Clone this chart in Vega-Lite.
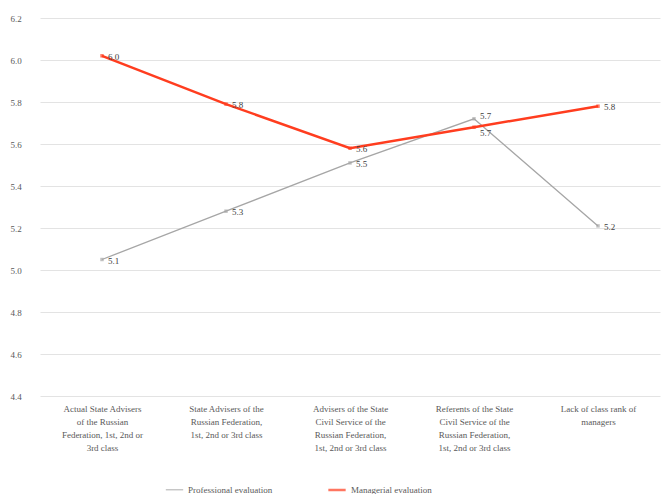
{
  "$schema": "https://vega.github.io/schema/vega-lite/v6.json",
  "width": 620,
  "height": 378,
  "autosize": {"type": "none"},
  "padding": {"left": 40, "top": 18, "right": 3, "bottom": 98},
  "background": "white",
  "config": {
    "view": {"stroke": null},
    "font": "Liberation Serif",
    "axis": {"labelFont": "Liberation Serif", "labelColor": "#595959", "labelFontSize": 9},
    "legend": {"labelFont": "Liberation Serif", "labelColor": "#595959", "labelFontSize": 9}
  },
  "data": {
    "values": [
      {"category": "Actual State Advisers", "series": "Professional evaluation", "value": 5.05, "label": "5.1"},
      {"category": "State Advisers", "series": "Professional evaluation", "value": 5.28, "label": "5.3"},
      {"category": "Advisers of the Civil Service", "series": "Professional evaluation", "value": 5.51, "label": "5.5"},
      {"category": "Referents of the Civil Service", "series": "Professional evaluation", "value": 5.72, "label": "5.7"},
      {"category": "Lack of class rank", "series": "Professional evaluation", "value": 5.21, "label": "5.2"},
      {"category": "Actual State Advisers", "series": "Managerial evaluation", "value": 6.02, "label": "6.0"},
      {"category": "State Advisers", "series": "Managerial evaluation", "value": 5.79, "label": "5.8"},
      {"category": "Advisers of the Civil Service", "series": "Managerial evaluation", "value": 5.58, "label": "5.6"},
      {"category": "Referents of the Civil Service", "series": "Managerial evaluation", "value": 5.68, "label": "5.7"},
      {"category": "Lack of class rank", "series": "Managerial evaluation", "value": 5.78, "label": "5.8"}
    ]
  },
  "encoding": {
    "x": {
      "field": "category", "type": "nominal", "sort": null, "title": null,
      "scale": {"paddingInner": 0, "paddingOuter": 0},
      "axis": {
        "labelAngle": 0, "domain": false, "ticks": false, "labelPadding": 8,
        "labelLineHeight": 13, "labelBaseline": "top",
        "labelExpr": "{'Actual State Advisers': ['Actual State Advisers', 'of the Russian', 'Federation, 1st, 2nd or', '3rd class'], 'State Advisers': ['State Advisers of the', 'Russian Federation,', '1st, 2nd or 3rd class'], 'Advisers of the Civil Service': ['Advisers of the State', 'Civil Service of the', 'Russian Federation,', '1st, 2nd or 3rd class'], 'Referents of the Civil Service': ['Referents of the State', 'Civil Service of the', 'Russian Federation,', '1st, 2nd or 3rd class'], 'Lack of class rank': ['Lack of class rank of', 'managers']}[datum.label]"
      }
    },
    "y": {
      "field": "value", "type": "quantitative", "title": null,
      "scale": {"domain": [4.4, 6.2], "nice": false, "zero": false},
      "axis": {"values": [4.4, 4.6, 4.8, 5.0, 5.2, 5.4, 5.6, 5.8, 6.0, 6.2], "format": ".1f", "domain": false, "ticks": false, "labelPadding": 30, "gridColor": "#e3e3e3", "labelAlign": "left"}
    },
    "color": {
      "field": "series", "type": "nominal", "title": null,
      "scale": {"domain": ["Professional evaluation", "Managerial evaluation"], "range": ["#a6a6a6", "#ff3d1f"]},
      "legend": {"orient": "none", "legendX": 125, "legendY": 462, "direction": "horizontal", "symbolType": "stroke", "symbolSize": 300, "symbolStrokeWidth": 2, "columnPadding": 50}
    }
  },
  "layer": [
    {
      "mark": {"type": "line"},
      "encoding": {
        "strokeWidth": {"field": "series", "type": "nominal", "scale": {"domain": ["Professional evaluation", "Managerial evaluation"], "range": [1.3, 2.5]}, "legend": null}
      }
    },
    {
      "mark": {"type": "point", "filled": true, "size": 12, "shape": "square"}
    },
    {
      "transform": [{"filter": "datum.category != 'Referents of the Civil Service'"}],
      "mark": {"type": "text", "align": "left", "dx": 6, "dy": 1, "fontSize": 9, "color": "#404040"},
      "encoding": {"text": {"field": "label"}, "color": {"value": "#404040"}}
    },
    {
      "transform": [{"filter": "datum.category == 'Referents of the Civil Service' && datum.series == 'Professional evaluation'"}],
      "mark": {"type": "text", "align": "left", "dx": 6, "dy": -3, "fontSize": 9, "color": "#404040"},
      "encoding": {"text": {"field": "label"}, "color": {"value": "#404040"}}
    },
    {
      "transform": [{"filter": "datum.category == 'Referents of the Civil Service' && datum.series == 'Managerial evaluation'"}],
      "mark": {"type": "text", "align": "left", "dx": 6, "dy": 6, "fontSize": 9, "color": "#404040"},
      "encoding": {"text": {"field": "label"}, "color": {"value": "#404040"}}
    }
  ]
}
